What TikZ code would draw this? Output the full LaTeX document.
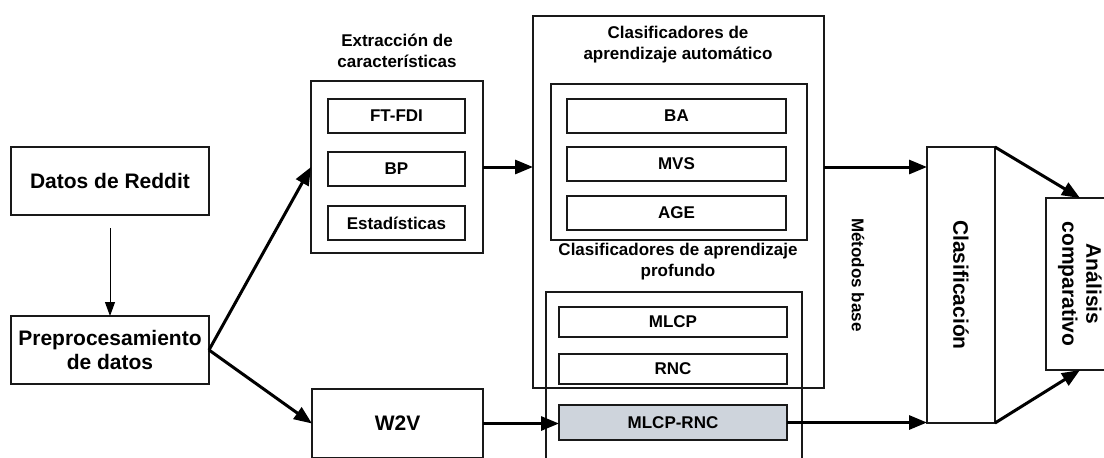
\documentclass[tikz,border=0pt]{standalone}
\usepackage{fontspec}
\setmainfont{Liberation Sans}
\usetikzlibrary{arrows.meta}
\definecolor{grisazul}{RGB}{206,212,220}
\begin{document}
\begin{tikzpicture}[x=0.5pt,y=-0.5pt]
  \tikzstyle{caja}=[draw=black!90, line width=0.65pt, rectangle, inner sep=0pt, outer sep=0pt]
  \tikzstyle{grande}=[font=\bfseries\fontsize{10.5}{12}\selectfont, align=center]
  \tikzstyle{chica}=[font=\bfseries\fontsize{8.5}{10.5}\selectfont, align=center]
  \tikzstyle{flecha}=[line width=1.5pt, -{Triangle[length=9pt,width=7pt]}]
  \useasboundingbox (0,0) rectangle (1104,457);
  \node[caja, grande, minimum width=99pt, minimum height=34pt] (reddit) at (110,181) {Datos de Reddit};
  \node[caja, grande, minimum width=99pt, minimum height=34pt] (prep) at (110,350) {Preprocesamiento\\de datos};
  \node[chica] (exttit) at (397,51) {Extracción de\\características};
  \node[caja, minimum width=86pt, minimum height=86pt] (ext) at (397,167) {};
  \node[caja, chica, minimum width=68.5pt, minimum height=17pt] (ftfdi) at (396.5,116) {FT-FDI};
  \node[caja, chica, minimum width=68.5pt, minimum height=17pt] (bp) at (396.5,169) {BP};
  \node[caja, chica, minimum width=68.5pt, minimum height=17pt] (est) at (396.5,223) {Estadísticas};
  \node[caja, grande, minimum width=85.5pt, minimum height=34.5pt] (w2v) at (397.5,423.5) {W2V};
  \node[caja, minimum width=145.5pt, minimum height=186pt] (ml) at (678.5,202) {};
  \node[chica] (mltit) at (678,45) {Clasificadores de\\aprendizaje automático};
  \node[caja, minimum width=128pt, minimum height=78pt] (mlin) at (679,162) {};
  \node[caja, chica, minimum width=109.5pt, minimum height=17pt] (ba) at (676.5,116) {BA};
  \node[caja, chica, minimum width=109.5pt, minimum height=17pt] (mvs) at (676.5,164) {MVS};
  \node[caja, chica, minimum width=109.5pt, minimum height=17pt] (age) at (676.5,213) {AGE};
  \node[chica] (dltit) at (678,261.5) {Clasificadores de aprendizaje\\profundo};
  \node[caja, minimum width=128pt, minimum height=89pt] (dl) at (674,381) {};
  \node[caja, chica, minimum width=114pt, minimum height=15pt] (mlcp) at (673,322) {MLCP};
  \node[caja, chica, minimum width=114pt, minimum height=15pt] (rnc) at (673,369) {RNC};
  \node[caja, chica, fill=grisazul, minimum width=114pt, minimum height=17.5pt] (mlcprnc) at (673,422.5) {MLCP-RNC};
  \node[chica, rotate=-90] (metodos) at (858,275) {Métodos base};
  \node[caja, minimum width=34pt, minimum height=138pt] (clas) at (961,285) {};
  \node[grande, rotate=-90] (clastxt) at (clas) {Clasificación};
  \node[caja, minimum width=34pt, minimum height=86pt] (ana) at (1080,284) {};
  \node[grande, rotate=-90] (anatxt) at (ana) {Análisis\\comparativo};
  \draw[line width=0.5pt, -{Triangle[length=7pt,width=5pt]}, shorten <=6.5pt] (reddit) -- (prep);
  \draw[flecha] (prep.east) -- (ext.west);
  \draw[flecha] (prep.east) -- (w2v.west);
  \draw[flecha] (ext.east) -- (ext.east -| ml.west);
  \draw[flecha] (w2v.east) -- (w2v.east -| mlcprnc.west);
  \draw[flecha] (ml.east |- ext.east) -- (clas.west |- ext.east);
  \draw[flecha] (mlcprnc.east) -- (mlcprnc.east -| clas.west);
  \draw[flecha] (clas.north east) -- (ana.north);
  \draw[flecha] (clas.south east) -- (ana.south);
\end{tikzpicture}
\end{document}
